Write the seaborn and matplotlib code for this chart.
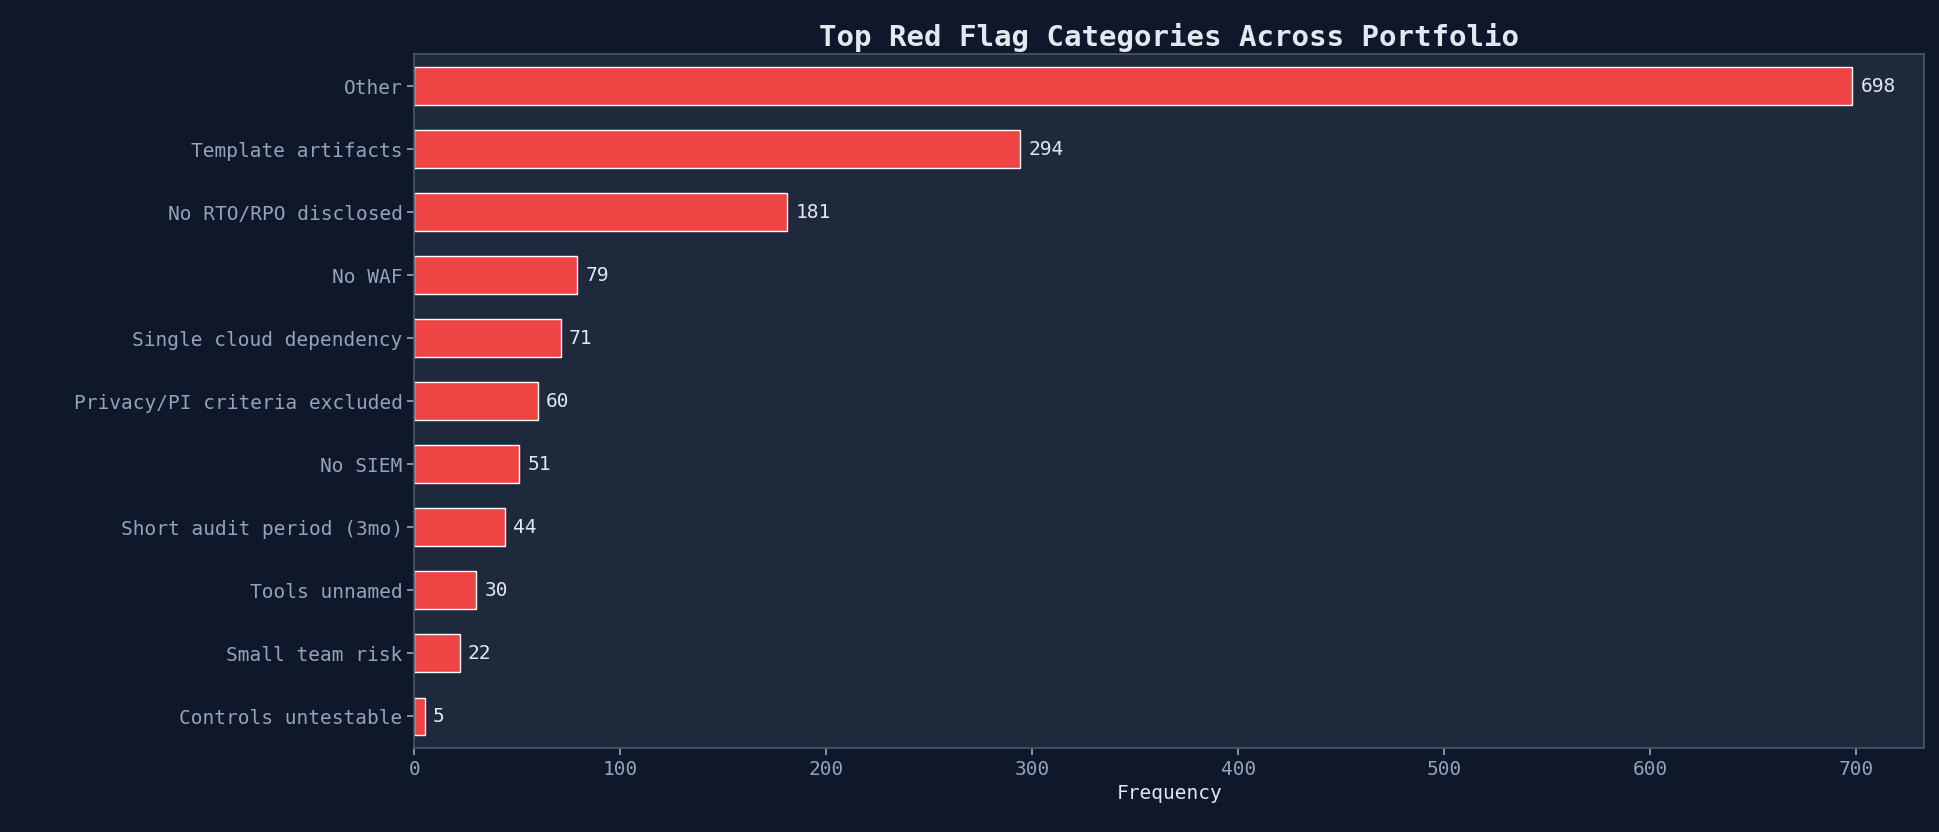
import matplotlib
matplotlib.use("Agg")
import matplotlib.pyplot as plt
import seaborn as sns
import pandas as pd

categories = ["Other", "Template artifacts", "No RTO/RPO disclosed", "No WAF",
              "Single cloud dependency", "Privacy/PI criteria excluded", "No SIEM",
              "Short audit period (3mo)", "Tools unnamed", "Small team risk",
              "Controls untestable"]
values = [698, 294, 181, 79, 71, 60, 51, 44, 30, 22, 5]

sns.set_theme(style="dark")
plt.rcParams['font.family'] = ['DejaVu Sans Mono', 'DejaVu Sans']

df = pd.DataFrame({"cat": categories, "val": values})
fig = plt.figure(figsize=(19.4, 8.32), dpi=100, facecolor="#0f172a")
ax = fig.add_axes([0.2136, 0.101, 0.7784, 0.8335])
ax.set_facecolor("#1e293b")
sns.barplot(data=df, x="val", y="cat", color="#ef4444", saturation=1, width=0.6, ax=ax)
for i, v in enumerate(values):
    ax.text(v + 4, i, str(v), va="center", ha="left", color="#e2e8f0", fontsize=14)
ax.set_xlim(0, 733)
ax.set_xticks(range(0, 701, 100))
ax.set_ylabel("")
ax.set_xlabel("Frequency", color="#e2e8f0", fontsize=14)
ax.set_title("Top Red Flag Categories Across Portfolio", color="#e2e8f0",
             fontsize=21, fontweight="bold", pad=6)
ax.tick_params(colors="#94a3b8", labelsize=14, length=5, left=True, bottom=True)
for s in ax.spines.values():
    s.set_color("#475569")
    s.set_visible(True)
ax.grid(False)
fig.savefig("out.png", facecolor=fig.get_facecolor())
